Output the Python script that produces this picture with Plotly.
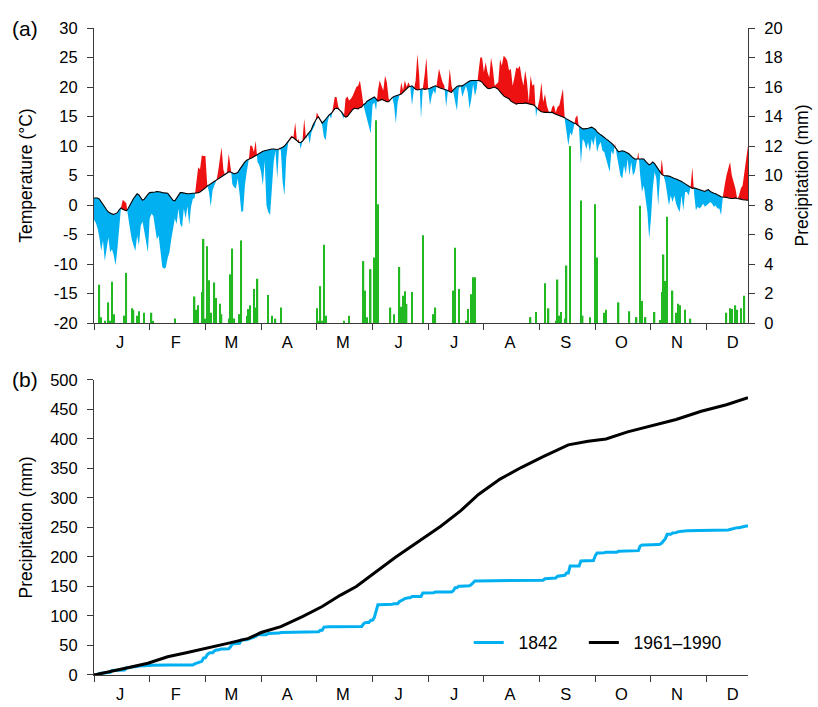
import numpy as np
import plotly.graph_objects as go

months = ["J", "F", "M", "A", "M", "J", "J", "A", "S", "O", "N", "D"]

# Daily mean temperature 1842 (°C), day 0 = 1 Jan
temp_1842 = [
    -2.5, -3.0, -4.0, -5.5, -7.8, -6.0, -9.5, -7.0, -5.5, -8.0,
    -7.5, -8.5, -10.2, -7.5, -4.5, -0.5, 0.9, 0.6, 0.3, -2.3,
    -4.0, -5.8, -7.0, -7.8, -5.2, -6.8, -3.5, -2.8, -4.5, -6.0,
    -8.0, -2.3, -1.5, -1.8, -3.5, -5.8, -5.2, -8.5, -10.5, -10.8,
    -10.6, -9.0, -8.0, -5.8, -4.0, -2.3, -3.2, -0.6, -3.2, -3.8,
    -0.6, -2.3, -0.2, -3.4, -0.3, 1.0, 1.2, 3.9, 6.4, 6.0,
    8.4, 8.3, 8.3, 3.5, 2.2, -0.3, 2.5, 3.3, 3.9, 5.5,
    8.1, 9.8, 6.0, 5.0, 5.6, 8.7, 6.8, 3.5, 3.0, 2.8,
    4.5, 2.0, -1.2, -1.0, 3.3, 5.6, 7.3, 10.1, 10.0, 9.0,
    10.9, 7.3, 6.8, 5.6, 3.3, 7.5, -0.1, -1.2, -1.7, 2.2,
    7.3, 9.2, 4.5, 9.8, 9.2, 3.9, 1.6, 8.0, 10.4, 11.2,
    11.8, 11.5, 14.0, 10.7, 11.2, 9.5, 10.7, 14.6, 11.2, 12.3,
    10.4, 12.3, 13.0, 13.5, 15.7, 15.0, 14.6, 13.5, 11.5, 11.0,
    14.0, 15.2, 14.6, 16.5, 18.3, 18.3, 16.6, 16.0, 15.2, 14.6,
    18.0, 18.4, 17.7, 18.0, 18.5, 19.4, 20.0, 20.2, 21.1, 19.1,
    16.9, 15.7, 14.6, 13.5, 12.1, 16.9, 17.4, 16.0, 19.4, 21.1,
    20.2, 19.4, 21.9, 20.8, 18.0, 17.7, 18.3, 16.9, 13.8, 17.4,
    18.4, 20.8, 19.4, 21.1, 20.0, 20.8, 20.2, 16.9, 19.4, 21.1,
    25.6, 22.0, 14.6, 19.7, 22.0, 25.0, 19.7, 16.9, 18.5, 19.4,
    18.8, 21.0, 23.1, 21.9, 20.8, 20.2, 16.6, 19.4, 23.1, 20.2,
    19.1, 17.5, 16.0, 19.7, 20.2, 18.3, 19.1, 20.2, 19.1, 16.3,
    18.0, 20.5, 18.5, 19.7, 22.5, 25.0, 25.0, 22.5, 24.2, 22.5,
    21.6, 25.0, 23.1, 20.2, 20.5, 20.8, 24.7, 23.6, 25.3, 25.0,
    24.5, 22.8, 23.1, 20.2, 21.6, 23.3, 23.1, 23.6, 21.6, 20.2,
    22.8, 20.8, 17.4, 21.9, 20.2, 20.5, 14.9, 16.6, 18.0, 20.8,
    17.4, 18.8, 16.9, 15.9, 15.4, 16.6, 16.9, 15.7, 16.6, 16.9,
    18.3, 19.7, 14.6, 12.1, 10.1, 12.3, 11.8, 13.2, 14.8, 15.2,
    12.9, 7.0, 11.2, 10.7, 9.5, 10.7, 9.0, 11.2, 10.1, 11.8,
    9.0, 10.1, 10.7, 9.2, 9.0, 7.8, 7.0, 5.6, 9.2, 8.5,
    10.4, 8.4, 6.7, 5.0, 4.5, 6.7, 5.3, 7.8, 5.0, 7.3,
    5.0, 5.6, 7.3, 9.0, 5.0, 2.2, 3.3, 1.1, -1.2, -5.7,
    -2.3, 2.8, 5.6, 4.5, -0.1, 4.5, 7.8, 5.0, 3.9, 1.6,
    -0.1, 1.6, 0.5, 1.6, 0.2, -0.6, -1.2, 1.6, -0.9, 2.2,
    2.2, 1.6, 2.8, 6.4, 1.9, -0.9, -0.3, -0.6, -0.3, 0.2,
    -0.3, -0.1, 0.2, 0.5, 0.2, -0.3, -0.1, -0.6, -0.6, -1.7,
    1.4, 3.3, 5.0, 6.0, 7.3, 5.0, 3.9, 2.8, 1.0, 1.6,
    2.8, 3.3, 5.6, 8.4, 10.1,
]

# Daily mean temperature 1961-1990 (°C)
temp_clim = [
    1.2, 1.2, 1.2, 1.0, 0.5, 0.1, -0.3, -0.8, -1.2, -1.4,
    -1.5, -1.6, -1.5, -1.3, -0.8, -0.5, -0.7, -0.9, -1.0, -0.6,
    0.0, 0.6, 1.1, 1.5, 1.9, 1.7, 1.2, 0.8, 1.0, 1.5,
    1.8, 2.1, 2.1, 2.2, 2.2, 2.3, 2.3, 2.2, 2.1, 2.1,
    2.0, 2.0, 1.6, 1.2, 0.8, 0.7, 1.2, 1.8, 2.1, 2.1,
    2.0, 1.9, 1.9, 1.9, 2.0, 2.0, 2.0, 2.0, 2.1, 2.2,
    2.4, 2.6, 2.9, 3.2, 3.4, 3.7, 3.9, 4.1, 4.2, 4.5,
    4.7, 4.9, 5.1, 5.3, 5.5, 5.6, 5.6, 5.4, 5.3, 5.4,
    5.5, 6.0, 6.5, 6.9, 7.3, 7.6, 7.8, 7.9, 8.0, 8.2,
    8.3, 8.6, 8.8, 9.0, 9.1, 9.2, 9.3, 9.4, 9.4, 9.5,
    9.5, 9.4, 9.4, 9.5, 9.6, 9.8, 10.0, 10.4, 10.9, 11.2,
    11.5, 11.4, 11.2, 10.9, 10.6, 10.6, 10.8, 11.2, 11.7, 12.0,
    12.3, 12.8, 13.6, 14.3, 14.7, 14.9, 14.3, 13.9, 14.2, 14.6,
    15.1, 15.3, 15.5, 15.9, 16.3, 16.4, 16.3, 16.0, 15.7, 15.2,
    14.9, 15.0, 15.4, 15.9, 16.2, 16.4, 16.4, 16.3, 16.5, 16.6,
    17.0, 17.2, 17.6, 17.8, 18.0, 18.2, 18.3, 18.0, 17.6, 17.7,
    17.9, 17.8, 17.6, 17.5, 17.5, 17.9, 18.2, 18.4, 18.5, 18.6,
    18.7, 18.8, 19.1, 19.4, 19.7, 20.0, 20.1, 20.2, 19.9, 19.6,
    19.5, 19.6, 19.7, 19.7, 19.6, 19.6, 19.7, 19.8, 20.0, 20.1,
    20.2, 20.0, 19.9, 19.8, 19.7, 19.7, 19.5, 19.4, 19.2, 19.1,
    19.5, 19.9, 20.1, 20.2, 20.2, 20.2, 20.4, 20.6, 20.9, 21.0,
    21.1, 21.1, 21.2, 21.2, 21.1, 21.0, 20.8, 20.4, 20.0, 19.8,
    19.7, 19.8, 19.9, 20.0, 19.8, 19.6, 19.2, 18.8, 18.5, 18.3,
    18.1, 18.0, 17.6, 17.4, 17.2, 17.1, 17.2, 17.2, 17.1, 17.2,
    17.3, 17.2, 17.1, 17.0, 17.0, 16.9, 16.6, 16.2, 16.0, 15.8,
    15.7, 15.7, 15.7, 15.7, 15.7, 15.7, 15.5, 15.4, 15.2, 15.1,
    15.0, 14.9, 14.8, 14.6, 14.4, 14.2, 14.0, 13.9, 13.8, 13.6,
    13.4, 13.2, 12.9, 12.9, 12.9, 13.0, 13.1, 13.2, 13.0, 12.8,
    12.4, 12.1, 11.9, 11.7, 11.4, 11.2, 11.0, 10.8, 10.5, 10.2,
    9.8, 9.4, 9.0, 9.1, 9.2, 9.1, 9.0, 8.8, 8.6, 8.2,
    8.0, 7.8, 7.8, 7.8, 7.8, 7.9, 7.8, 7.4, 7.0, 6.8,
    7.0, 7.3, 7.0, 6.5, 6.0, 5.7, 5.2, 5.0, 5.0, 4.9,
    4.9, 4.8, 4.6, 4.5, 4.4, 4.3, 4.2, 4.0, 3.8, 3.6,
    3.4, 3.3, 3.1, 2.8, 2.9, 2.8, 2.7, 2.6, 2.5, 2.4,
    2.3, 2.5, 2.6, 2.3, 2.1, 2.0, 1.9, 1.7, 1.6, 1.4,
    1.35, 1.35, 1.3, 1.2, 1.1, 1.1, 1.1, 1.2, 1.1, 1.1,
    1.0, 0.9, 0.9, 0.8, 0.8,
]

# Daily precipitation 1842 (mm): wet days and amounts
precip_days = [3, 4, 6, 8, 9, 10, 11, 17, 18, 21, 22, 24, 25, 28, 32, 33, 45,
               56, 57, 58, 60, 61, 62, 63, 64, 65, 67, 68, 70, 71, 75, 76, 77, 78,
               81, 82, 85, 86, 87, 89, 90, 91, 97, 99, 101, 104,
               124, 125, 126, 127, 128, 129, 139, 142, 150, 151, 152, 154, 156, 157, 158,
               165, 167, 170, 171, 172, 173, 174, 177, 183,
               189, 190, 200, 201, 203, 207, 208, 210, 211, 212, 243,
               246, 251, 253, 257, 258, 259, 260, 262, 263, 265, 271, 272, 276, 279, 280,
               284, 285, 292, 298, 302, 304, 305, 307, 312, 315, 316, 317, 318, 319,
               322, 324, 325, 326, 329, 332, 352, 354, 355, 357, 358, 360, 362]
precip_mm = [2.6, 0.4, 0.15, 1.4, 0.15, 2.8, 0.6, 0.5, 3.4, 1.0, 0.9, 0.5, 0.8, 0.7, 0.7, 0.15, 0.3,
             1.8, 0.9, 1.2, 2.1, 5.7, 0.3, 5.2, 2.9, 0.7, 2.75, 1.7, 1.3, 0.6, 0.3, 3.3, 5.05, 0.3,
             0.6, 5.6, 0.5, 0.95, 1.2, 2.3, 1.05, 3.0, 1.9, 0.5, 0.3, 1.05,
             1.0, 0.15, 2.5, 0.15, 5.3, 0.5, 0.15, 0.5, 4.2, 2.2, 0.4, 3.65, 4.45, 13.75, 8.05,
             1.05, 0.6, 3.8, 1.1, 1.85, 2.15, 1.3, 2.1, 5.95,
             0.6, 1.05, 2.2, 5.1, 2.3, 0.15, 0.95, 1.95, 3.1, 3.1, 0.4,
             0.75, 2.7, 1.0, 0.15, 2.95, 0.5, 0.75, 0.3, 3.9, 12.0, 8.3, 0.5, 0.4, 8.05, 4.45,
             0.7, 0.9, 1.4, 0.8, 0.4, 7.95, 1.5, 0.4, 0.75, 0.2, 2.1, 4.65, 2.85, 7.2,
             2.2, 0.7, 1.3, 1.2, 0.9, 0.3, 0.7, 1.0, 0.95, 1.2, 0.9, 1.0, 1.85]

# Cumulative precipitation 1961-1990 (mm) read at these days
cum_clim_days = [0, 10, 20, 30, 41, 52, 64, 75, 86, 93, 104, 116, 127, 137, 146,
                 157, 168, 180, 193, 204, 214, 226, 238, 250, 264, 275, 285, 297,
                 310, 324, 338, 352, 364]
cum_clim_mm = [0, 6, 13, 20, 31, 38, 47, 54, 62, 72, 82, 99, 116, 135, 150,
               175, 200, 225, 252, 278, 306, 332, 352, 370, 390, 396, 400, 412,
               422, 433, 447, 458, 470]

temp_ticks = list(range(-20, 31, 5))
precip_ticks = list(range(0, 21, 2))
cum_ticks = list(range(0, 501, 50))

# ---------------------------------------------------------------
T = np.array(temp_1842, dtype=float)
C = np.array(temp_clim, dtype=float)
n = len(T)
xs, up, lo, cl = [], [], [], []
for i in range(n):
    xs.append(i); cl.append(C[i]); up.append(max(T[i], C[i])); lo.append(min(T[i], C[i]))
    if i < n - 1:
        d0 = T[i] - C[i]
        d1 = T[i + 1] - C[i + 1]
        if d0 * d1 < 0:
            f = d0 / (d0 - d1)
            cc = C[i] + f * (C[i + 1] - C[i])
            xs.append(i + f); cl.append(cc); up.append(cc); lo.append(cc)

daily_p = np.zeros(n)
for d, v in zip(precip_days, precip_mm):
    daily_p[d] += v
cum_1842 = np.cumsum(daily_p)

RED = "#EE1111"
BLUE = "#00B0F0"
GREEN = "#22B822"
AX = "#3a3a3a"
FONT = "Arial, Liberation Sans, sans-serif"

fig = go.Figure()
fig.add_trace(go.Bar(x=precip_days, y=precip_mm, width=0.8, marker_color=GREEN,
                     marker_line_width=0, xaxis="x", yaxis="y", showlegend=False))
fig.add_trace(go.Scatter(x=xs, y=cl, mode="lines", line=dict(width=0), xaxis="x", yaxis="y2",
                         showlegend=False, hoverinfo="skip"))
fig.add_trace(go.Scatter(x=xs, y=up, mode="lines", line=dict(width=0), fill="tonexty",
                         fillcolor=RED, xaxis="x", yaxis="y2", showlegend=False))
fig.add_trace(go.Scatter(x=xs, y=cl, mode="lines", line=dict(width=0), xaxis="x", yaxis="y2",
                         showlegend=False, hoverinfo="skip"))
fig.add_trace(go.Scatter(x=xs, y=lo, mode="lines", line=dict(width=0), fill="tonexty",
                         fillcolor=BLUE, xaxis="x", yaxis="y2", showlegend=False))
fig.add_trace(go.Scatter(x=list(range(n)), y=temp_clim, mode="lines",
                         line=dict(color="black", width=1.1), xaxis="x", yaxis="y2", showlegend=False))

fig.add_trace(go.Scatter(x=list(range(n)), y=cum_1842, mode="lines", name="\u00a0\u00a01842",
                         line=dict(color=BLUE, width=3), xaxis="x2", yaxis="y3", legend="legend"))
fig.add_trace(go.Scatter(x=cum_clim_days, y=cum_clim_mm, mode="lines",
                         name="\u00a0\u00a01961\u20131990",
                         line=dict(color="black", width=3), xaxis="x2", yaxis="y3", legend="legend2"))

centers = [14.5 + 31 * k for k in range(12)]
bounds = [31 * k for k in range(12)]
xcommon = dict(range=[0, 364], tickvals=centers, ticktext=months, ticks="", automargin=False,
               showline=True, linecolor=AX, linewidth=1, showgrid=False, zeroline=False,
               tickfont=dict(size=16.5, color="black"), ticklabelstandoff=4,
               minor=dict(tickvals=bounds, ticks="outside", ticklen=6, tickcolor=AX, tickwidth=1))
ycommon = dict(showline=True, linecolor=AX, linewidth=1, showgrid=False, zeroline=False,
               ticks="outside", ticklen=6, tickcolor=AX, tickfont=dict(size=16.5, color="black"),
               ticklabelstandoff=6, automargin=False)

leg = dict(orientation="h", xanchor="left", yanchor="middle", y=0.05,
           bgcolor="rgba(0,0,0,0)", font=dict(size=17.5))

top_dom = [0.544, 1.0]
bot_dom = [0.0, 0.456]
fig.update_layout(
    width=818, height=707,
    margin=dict(l=94, r=70, t=28, b=32),
    paper_bgcolor="white", plot_bgcolor="white",
    font=dict(family=FONT, size=16, color="black"),
    barmode="overlay",
    xaxis=dict(domain=[0, 1], anchor="y", **xcommon),
    yaxis=dict(domain=top_dom, anchor="x", side="right", range=[0, 20],
               tickvals=precip_ticks, ticktext=[str(v) for v in precip_ticks],
               title=dict(text="Precipitation (mm)", font=dict(size=17.5), standoff=14), **ycommon),
    yaxis2=dict(overlaying="y", anchor="x", side="left", range=[-20, 30],
                tickvals=temp_ticks, ticktext=[str(v) for v in temp_ticks],
                title=dict(text="Temperature (°C)", font=dict(size=17.5), standoff=16), **ycommon),
    xaxis2=dict(domain=[0, 1], anchor="y3", **xcommon),
    yaxis3=dict(domain=bot_dom, anchor="x2", range=[0, 500],
                tickvals=cum_ticks, ticktext=[str(v) for v in cum_ticks],
                title=dict(text="Precipitation (mm)", font=dict(size=17.5), standoff=13), **ycommon),
    legend=dict(x=0.573, **leg),
    legend2=dict(x=0.749, **leg),
    annotations=[
        dict(text="(a)", x=-0.105, y=1.0, xref="paper", yref="paper", showarrow=False,
             font=dict(size=21), xanchor="center", yanchor="middle"),
        dict(text="(b)", x=-0.105, y=0.456, xref="paper", yref="paper", showarrow=False,
             font=dict(size=21), xanchor="center", yanchor="middle"),
    ],
)

fig.write_html("out.html", config={"displayModeBar": False},
               post_script="document.body.style.margin='0px';")
